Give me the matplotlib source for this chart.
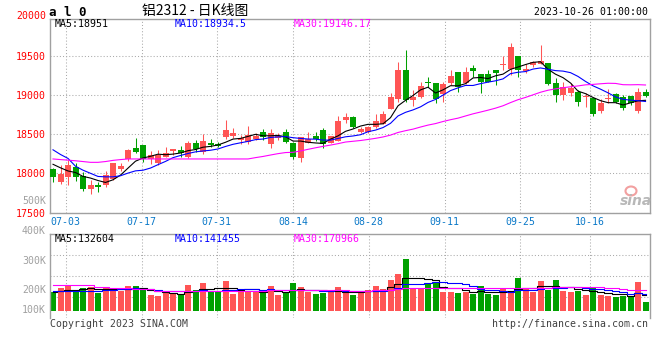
import numpy as np
import pandas as pd
import matplotlib
matplotlib.use('Agg')
import matplotlib.pyplot as plt
from matplotlib.patches import Ellipse

plt.rcParams['font.family'] = ['DejaVu Sans Mono', 'Noto Sans CJK SC']

# daily candles, 06-29 .. 10-26
opens = [18055, 17885, 17949, 18081, 17966, 17805, 17851, 17851, 17923, 18055,
         18183, 18327, 18361, 18183, 18136, 18212, 18289, 18297, 18212, 18382,
         18276, 18382, 18370, 18459, 18480, 18425, 18403, 18437, 18531, 18370,
         18455, 18531, 18382, 18191, 18391, 18480, 18552, 18382, 18416, 18680,
         18723, 18523, 18523, 18586, 18629, 18820, 18944, 19317, 18935, 18969,
         19160, 19156, 19011, 19147, 19288, 19147, 19339, 19267, 19267, 19317,
         19381, 19326, 19496, 19309, 19381, 19394, 19402, 19147, 18999, 19020,
         19041, 18969, 18956, 18799, 18944, 19011, 18969, 18986, 18799, 19041]
highs = [18072, 18106, 18170, 18127, 18017, 17915, 17894, 18034, 18130, 18127,
         18306, 18455, 18361, 18285, 18297, 18331, 18310, 18348, 18412, 18425,
         18497, 18437, 18395, 18680, 18574, 18489, 18603, 18510, 18561, 18561,
         18510, 18561, 18404, 18459, 18531, 18523, 18574, 18476, 18731, 18765,
         18731, 18595, 18603, 18757, 18795, 19028, 19424, 19572, 19062, 19169,
         19224, 19156, 19169, 19317, 19288, 19360, 19381, 19267, 19317, 19317,
         19496, 19666, 19496, 19394, 19436, 19636, 19402, 19211, 19169, 19147,
         19062, 19020, 18956, 18943, 19071, 19028, 19000, 18986, 19084, 19071]
lows = [17894, 17864, 17851, 17906, 17779, 17736, 17766, 17830, 17920, 18034,
        18162, 18255, 18149, 18119, 18106, 18204, 18234, 18212, 18200, 18276,
        18246, 18331, 18330, 18437, 18446, 18370, 18370, 18425, 18425, 18319,
        18425, 18382, 18179, 18149, 18382, 18416, 18319, 18382, 18416, 18637,
        18574, 18510, 18510, 18574, 18629, 18820, 18914, 18914, 18863, 18960,
        19105, 18893, 18914, 19126, 19041, 19139, 19224, 19028, 19169, 19126,
        19317, 19254, 19224, 19275, 19360, 19394, 19126, 18914, 18935, 18986,
        18859, 18850, 18731, 18765, 18893, 18893, 18807, 18871, 18773, 18969]
closes = [17957, 17987, 18102, 17957, 17800, 17851, 17830, 17979, 18127, 18098,
          18297, 18272, 18183, 18234, 18234, 18263, 18310, 18255, 18382, 18306,
          18412, 18361, 18348, 18552, 18510, 18455, 18489, 18480, 18459, 18510,
          18480, 18403, 18204, 18459, 18433, 18437, 18374, 18476, 18667, 18723,
          18586, 18561, 18586, 18667, 18757, 18977, 19317, 18935, 18977, 19113,
          19150, 18944, 19139, 19241, 19105, 19288, 19309, 19169, 19169, 19283,
          19394, 19615, 19317, 19326, 19424, 19432, 19139, 18999, 19105, 19084,
          18914, 18977, 18757, 18901, 18956, 18914, 18829, 18893, 19033, 18986]
# volume in K lots
volumes = [159, 192, 209, 167, 192, 200, 148, 192, 181, 167,
           206, 206, 170, 134, 125, 159, 139, 139, 215, 173,
           231, 156, 159, 248, 139, 181, 167, 167, 148, 206,
           131, 148, 231, 198, 159, 139, 150, 159, 198, 150,
           131, 164, 173, 206, 181, 256, 306, 432, 192, 178,
           220, 242, 159, 159, 150, 159, 139, 206, 139, 131,
           181, 167, 276, 181, 159, 248, 173, 256, 164, 159,
           164, 131, 198, 131, 125, 117, 125, 117, 240, 73]

# MA values before enough days are in the window
ma5_head = [18115, 18070, 18030, 18010]
ma10_head = [18300, 18240, 18190, 18090, 18040, 18000, 17960, 17955, 17955]
ma30_head = [18183, 18175, 18168, 18160, 18150, 18140, 18140, 18150, 18165, 18175,
             18183, 18183, 18183, 18183, 18183, 18183, 18183, 18183, 18183, 18183,
             18183, 18183, 18183, 18183, 18183, 18183, 18183, 18200, 18215]
vma5_head = [159, 167, 175, 175]
vma10_head = [162, 162, 163, 163, 163, 165, 167, 170, 171]
vma30_head = [212, 212, 212, 212, 212, 212, 200, 200, 190, 190,
              190, 179, 179, 179, 167, 167, 167, 163, 163, 163,
              163, 163, 163, 163, 163, 163, 163, 163, 163]

date_labels = ['07-03', '07-17', '07-31', '08-14', '08-28', '09-11', '09-25', '10-16']
date_pos = [1.7, 11.8, 21.8, 32.0, 42.1, 52.2, 62.3, 71.6]
price_ticks = [17500, 18000, 18500, 19000, 19500]

RED = '#FF5555'
GREEN = '#00A000'
GRID = '#AAAAAA'
FRAME = '#A0A0A0'
W, H = 660, 360


def ma(values, n, head):
    s = pd.Series(values, dtype=float).rolling(n).mean().to_numpy()
    s[:len(head)] = head
    return s


def fpos(x, y):
    return x / W, 1 - y / H


fig = plt.figure(figsize=(6.6, 3.6), dpi=100)
fig.patch.set_facecolor('white')

ax = fig.add_axes([50 / W, 146.7 / H, 599.5 / W, 194.3 / H])
axv = fig.add_axes([50 / W, 42.3 / H, 599.5 / W, 83.4 / H])

x = np.arange(len(closes))
o = np.array(opens)
c = np.array(closes)
up = c >= o
cols = np.where(up, RED, GREEN)

# candles
ax.vlines(x, lows, highs, colors=cols, lw=0.75, zorder=2)
body_lo = np.minimum(o, c)
body_h = np.maximum(np.abs(c - o), 12)
ax.bar(x, body_h, bottom=body_lo, width=0.8, color=cols, linewidth=0, zorder=3)

ax.plot(x, ma(closes, 5, ma5_head), color='black', lw=0.8, zorder=4)
ax.plot(x, ma(closes, 10, ma10_head), color='#0000FF', lw=0.8, zorder=4)
ax.plot(x, ma(closes, 30, ma30_head), color='#FF00FF', lw=0.8, zorder=4)

ax.set_xlim(-0.4, 79.53)
ax.set_ylim(17490, 19968)
ax.set_yticks(price_ticks)
ax.set_yticklabels([str(t) for t in price_ticks], color='#FF0000', fontsize=7.1)
ax.set_xticks(date_pos)
ax.set_xticklabels(date_labels, color='#0A78C8', fontsize=7.1)
ax.tick_params(length=0, pad=3)
ax.tick_params(axis='x', pad=2.5)
ax.grid(True, color=GRID, linestyle=(0, (1, 2)), lw=0.75)
ax.set_axisbelow(True)
for s in ax.spines.values():
    s.set_color(FRAME)
    s.set_linewidth(1.0)

# volume panel
axv.bar(x, volumes, width=0.8, color=cols, linewidth=0, zorder=2)
axv.plot(x, ma(volumes, 5, vma5_head), color='black', lw=0.8, drawstyle='steps-mid', zorder=3)
axv.plot(x, ma(volumes, 10, vma10_head), color='#0000FF', lw=0.8, drawstyle='steps-mid', zorder=3)
axv.plot(x, ma(volumes, 30, vma30_head), color='#FF00FF', lw=0.8, drawstyle='steps-mid', zorder=3)
axv.set_xlim(-0.4, 79.53)
axv.set_ylim(-58, 638)
axv.set_yticks([116, 290, 464])
axv.set_xticks(date_pos)
axv.set_xticklabels([])
axv.set_yticklabels([])
axv.tick_params(length=0)
axv.grid(True, color=GRID, linestyle=(0, (1, 2)), lw=0.75)
axv.set_axisbelow(True)
for s in axv.spines.values():
    s.set_color(FRAME)
    s.set_linewidth(1.0)
axv.spines['bottom'].set_visible(False)

# texts
fs = 7.1
fig.text(*fpos(46, 15.7), '20000', color='#FF0000', fontsize=fs, ha='right', va='center')
for lab, yy in [('500K', 200.7), ('400K', 230.7), ('300K', 260.7), ('200K', 290), ('100K', 310)]:
    fig.text(*fpos(46, yy), lab, color='#A0A0A0', fontsize=fs, ha='right', va='center')

fig.text(*fpos(49, 12), 'a l 0', fontsize=9, fontweight='bold', ha='left', va='center')
fig.text(*fpos(195, 10.7), '铝2312 - 日K线图', fontsize=10,
         family=['Noto Sans CJK SC', 'DejaVu Sans'], ha='center', va='center')
fig.text(*fpos(648, 12), '2023-10-26 01:00:00', fontsize=fs, ha='right', va='center')

fig.text(*fpos(55, 24.3), 'MA5:18951', fontsize=fs, color='black', va='center')
fig.text(*fpos(175, 24.3), 'MA10:18934.5', fontsize=fs, color='#0000FF', va='center')
fig.text(*fpos(294, 24.3), 'MA30:19146.17', fontsize=fs, color='#FF00FF', va='center')

fig.text(*fpos(55, 238.7), 'MA5:132604', fontsize=fs, color='black', va='center')
fig.text(*fpos(175, 238.7), 'MA10:141455', fontsize=fs, color='#0000FF', va='center')
fig.text(*fpos(294, 238.7), 'MA30:170966', fontsize=fs, color='#FF00FF', va='center')

fig.text(*fpos(50, 324), 'Copyright 2023 SINA.COM', fontsize=fs, color='#404040', va='center')
fig.text(*fpos(648, 324), 'http://finance.sina.com.cn', fontsize=fs, color='#404040',
         ha='right', va='center')

# sina logo
fig.patches.append(Ellipse(fpos(631, 191), 11 / W, 9 / H, transform=fig.transFigure,
                           facecolor='none', edgecolor='#F2A0A0', lw=1.5))
fig.text(*fpos(636, 201), 'sina', fontsize=10, fontweight='bold', style='italic',
         color='#B8B8B8', family='DejaVu Sans', ha='center', va='center')

fig.savefig('out.png', dpi=100)
